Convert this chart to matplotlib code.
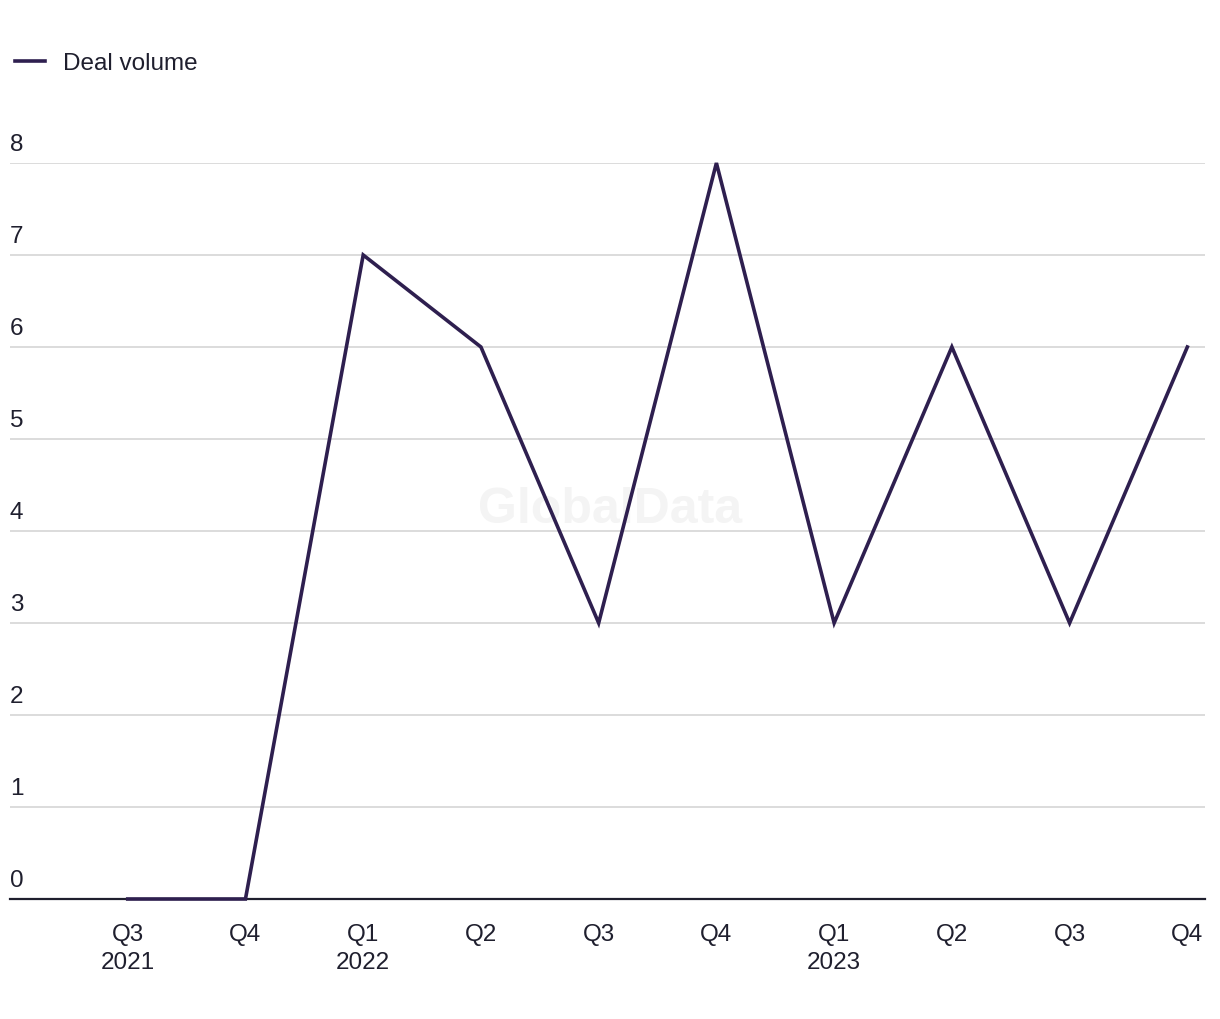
import matplotlib.pyplot as plt
from matplotlib.transforms import blended_transform_factory, offset_copy

plt.rcParams['font.family'] = ['Liberation Sans', 'DejaVu Sans']

quarters = ['Q3\n2021', 'Q4', 'Q1\n2022', 'Q2', 'Q3', 'Q4',
            'Q1\n2023', 'Q2', 'Q3', 'Q4']
deal_volume = [0, 0, 7, 6, 3, 8, 3, 6, 3, 6]
yticks = [0, 1, 2, 3, 4, 5, 6, 7, 8]

LINE = '#2e1f4f'
GRID = '#d9d9d9'
TEXT = '#1f1f2e'

fig = plt.figure(figsize=(12.2, 10.2), dpi=100)
ax = fig.add_axes([10 / 1220, 120 / 1020, 1195 / 1220, 736 / 1020])

x = list(range(len(quarters)))
ln, = ax.plot(x, deal_volume, color=LINE, lw=2.6, clip_on=False,
              solid_joinstyle='miter', label='Deal volume', zorder=3)

ax.set_xlim(-1.0, 9.15)
ax.set_ylim(0, 8)
ax.set_xticks(x)
ax.set_xticklabels(quarters, fontsize=17.5, color=TEXT, linespacing=1.35)
ax.tick_params(axis='x', length=0, pad=17)
ax.set_yticks([])

for s in ['top', 'right', 'left']:
    ax.spines[s].set_visible(False)
ax.spines['bottom'].set_color(TEXT)
ax.spines['bottom'].set_linewidth(1.6)

trans = blended_transform_factory(ax.transAxes, ax.transData)
lab_trans = offset_copy(trans, fig=fig, x=0, y=8, units='dots')
for v in yticks:
    if v > 0:
        ax.axhline(v, color=GRID, lw=1.3, zorder=1)
    ax.text(0, v, str(v), transform=lab_trans, fontsize=17.5, color=TEXT,
            ha='left', va='bottom')

ax.text(0.5, 0.5, 'GlobalData', transform=fig.transFigure, fontsize=36,
        fontweight='bold', color='#f4f4f4', ha='center', va='center', zorder=0)

fig.legend(handles=[ln], loc='upper left', bbox_to_anchor=(0.0, 0.962),
           frameon=False, fontsize=17.5, handlelength=1.25, handletextpad=0.75,
           labelcolor=TEXT, borderaxespad=0.2)

fig.savefig('out.png', dpi=100, facecolor='white')
